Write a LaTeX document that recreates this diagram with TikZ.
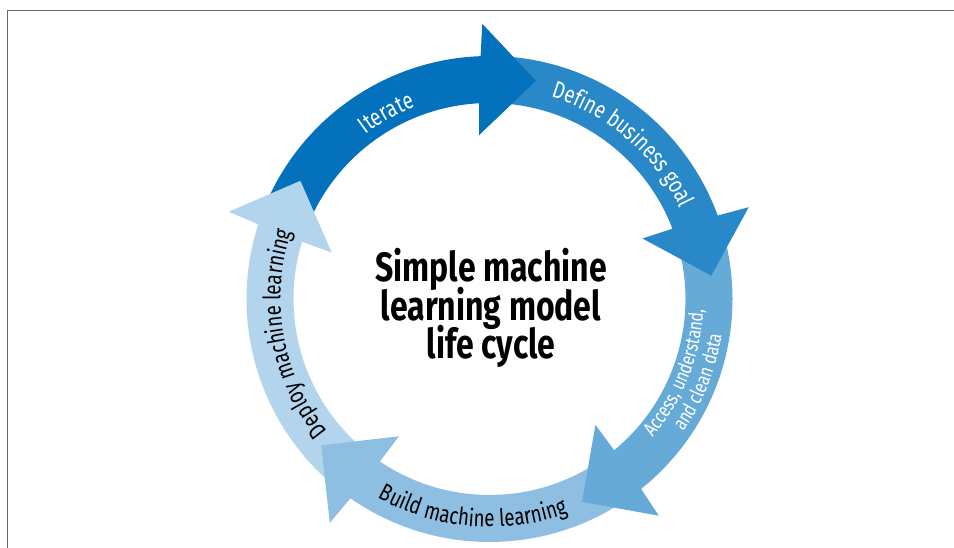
\documentclass[tikz,border=0pt]{standalone}
\usepackage{fontspec}
\setmainfont{Fira Sans}
\newfontfamily\cyclefont{Fira Sans}[FakeStretch=0.78]
\usetikzlibrary{decorations.text}

\definecolor{iterblue}{RGB}{3,113,188}
\definecolor{goalblue}{RGB}{41,136,200}
\definecolor{datablue}{RGB}{102,171,216}
\definecolor{buildblue}{RGB}{142,191,226}
\definecolor{deployblue}{RGB}{178,212,236}
\definecolor{framegray}{RGB}{105,105,105}

\newcommand{\arcfont}{\cyclefont\fontsize{24}{24}\selectfont}
\newcommand{\datafont}{\cyclefont\fontsize{20}{20}\selectfont}

% flecha del anillo: #1 cola, #2 punta, #3 color
\newcommand{\ringarrow}[3]{%
  \fill[#3] (#1:243pt) arc[start angle=#1, end angle=#2+14.1, radius=243pt]
    -- ({#2+13.5}:275pt) -- (#2:223pt) -- ({#2+15.6}:164.5pt) -- ({#2+15}:196pt)
    arc[start angle=#2+15, end angle=#1, radius=196pt] -- cycle;}
% solo la punta: #1 punta, #2 color
\newcommand{\ringhead}[2]{%
  \fill[#2] ({#1+13.5}:275pt) -- (#1:223pt) -- ({#1+15.6}:164.5pt) -- cycle;}

\begin{document}
\begin{tikzpicture}[x=1pt, y=1pt,
  ringlabel/.style={decorate, decoration={text along path, text align=center, text color=#1}},
  ringlabel/.default=white]
\useasboundingbox (0,0) rectangle (954,548);
% Marco
\draw[framegray, line width=1.5pt] (954,537.5) -- (7.5,537.5) -- (7.5,0);
\begin{scope}[shift={(489.5,249)}]
% Flechas
\ringarrow{158}{78}{iterblue}
\ringarrow{231}{148}{deployblue}
\ringarrow{-55.5}{-139}{buildblue}
\ringarrow{16}{-65.5}{datablue}
\ringarrow{88}{6}{goalblue}
\ringhead{78}{iterblue}
% Textos
\path[ringlabel, decoration={text={|\arcfont|Iterate}}]
  (164:206pt) arc[start angle=164, end angle=74, radius=206pt];
\path[ringlabel, decoration={text={|\arcfont|Define business goal}}]
  (94.2:211pt) arc[start angle=94.2, end angle=4.2, radius=211pt];
\path[ringlabel, decoration={text={|\datafont|Access, understand,}}]
  (-66.6:214pt) arc[start angle=-66.6, end angle=23.4, radius=214pt];
\path[ringlabel, decoration={text={|\datafont|and clean data}}]
  (-66.6:235pt) arc[start angle=-66.6, end angle=23.4, radius=235pt];
\path[ringlabel=black, decoration={text={|\arcfont|Build machine learning}}]
  (-139.6:228pt) arc[start angle=-139.6, end angle=-49.6, radius=228pt];
\path[ringlabel=black, decoration={text={|\arcfont|Deploy machine learning}}]
  (235.3:209pt) arc[start angle=235.3, end angle=145.3, radius=209pt];
% Titulo
\node[align=center, font=\cyclefont\bfseries\fontsize{41}{35}\selectfont] (title) at (1.5,-9)
  {Simple machine\\[-5pt]learning model\\[-5pt]life cycle};
\end{scope}
\end{tikzpicture}
\end{document}
